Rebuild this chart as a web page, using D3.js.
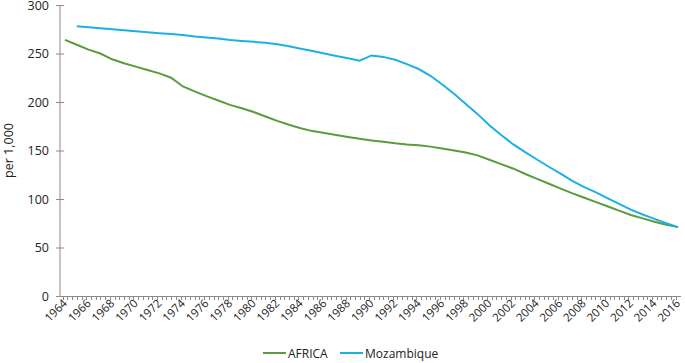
<!DOCTYPE html>
<html>
<head>
<meta charset="utf-8">
<script src="https://cdn.jsdelivr.net/npm/d3@7"></script>
<style>
  body { margin: 0; background: #fff; }
  svg text { font-family: "Open Sans", "Noto Sans", sans-serif; fill: #222; }
</style>
</head>
<body>
<svg id="chart" width="685" height="363"></svg>
<script>
// data
var africaYears = d3.range(1964, 2017);
var africa = [264, 259, 254, 250, 244, 240, 236.5, 233, 229.5, 225,
  216, 211, 206, 201.5, 197, 193.5, 189.7, 185, 180.5, 176.5,
  173, 170, 168, 166, 164, 162, 160.4, 159, 157.5, 156.3,
  155.5, 154, 152, 150, 148, 145, 140.5, 136, 131.5, 126,
  121, 116, 111, 106, 101.5, 97, 92.5, 88, 83.5, 80,
  76.5, 73.5, 71];
var mozYears = d3.range(1965, 2017);
var mozambique = [278, 277, 276, 275, 274, 273, 272, 271, 270, 269,
  267.5, 266.5, 265.5, 264, 263, 262, 261, 259.5, 257.5, 255,
  252.5, 250, 247.5, 245, 242.5, 248, 246.5, 243.5, 239, 234,
  227, 218, 208.5, 198, 187.5, 176, 166, 156.5, 148.5, 141,
  133.5, 126.5, 119, 112.5, 107, 101, 95, 89, 84, 79.5,
  75, 71];
var yTicks = [0, 50, 100, 150, 200, 250, 300];
var xLabels = d3.range(1964, 2017, 2);
var seriesNames = ["AFRICA", "Mozambique"];
var colors = ["#5b9b3d", "#1cb0e6"];

var svg = d3.select("#chart");
var axisColor = "#8a8a8a";

var x = d3.scaleLinear().domain([1964, 2016]).range([65, 678]);
var y = d3.scaleLinear().domain([0, 300]).range([296, 5]);

// y axis
svg.append("line")
  .attr("x1", 60).attr("x2", 60)
  .attr("y1", y(300)).attr("y2", y(0))
  .attr("stroke", axisColor);
svg.selectAll(".ytick").data(yTicks).enter().append("line")
  .attr("x1", 56).attr("x2", 64)
  .attr("y1", d => y(d) + 0.5).attr("y2", d => y(d) + 0.5)
  .attr("stroke", axisColor);
svg.selectAll(".ylab").data(yTicks).enter().append("text")
  .attr("x", 49).attr("y", d => y(d) + 4.5)
  .attr("text-anchor", "end")
  .style("font-size", "12.5px")
  .text(d => d);

svg.append("text")
  .attr("transform", "translate(13," + y(150) + ")rotate(-90)")
  .attr("text-anchor", "middle")
  .style("font-size", "12.5px")
  .text("per 1,000");

// x axis
svg.append("line")
  .attr("x1", 60).attr("x2", 681)
  .attr("y1", y(0) + 0.5).attr("y2", y(0) + 0.5)
  .attr("stroke", axisColor);
var minorTicks = d3.range(0, 131).map(i => 1963.8 + i * 0.4);
svg.selectAll(".xtick").data(minorTicks).enter().append("line")
  .attr("x1", d => Math.round(x(d)) + 0.5).attr("x2", d => Math.round(x(d)) + 0.5)
  .attr("y1", y(0)).attr("y2", y(0) + 4)
  .attr("stroke", axisColor);
svg.selectAll(".xlab").data(xLabels).enter().append("text")
  .attr("transform", d => "translate(" + (x(d) + 3) + ",304)rotate(-45)")
  .attr("text-anchor", "end")
  .style("font-size", "11.5px")
  .text(d => d);

// lines
var line = d3.line()
  .x(d => x(d[0]))
  .y(d => y(d[1]));

svg.append("path")
  .datum(africaYears.map((yr, i) => [yr, africa[i]]))
  .attr("d", line)
  .attr("fill", "none")
  .attr("stroke", colors[0])
  .attr("stroke-width", 2);

svg.append("path")
  .datum(mozYears.map((yr, i) => [yr, mozambique[i]]))
  .attr("d", line)
  .attr("fill", "none")
  .attr("stroke", colors[1])
  .attr("stroke-width", 2);

// legend
var legendX = [263, 340];
var lg = svg.selectAll(".legend").data(seriesNames).enter().append("g")
  .attr("transform", (d, i) => "translate(" + legendX[i] + ",353)");
lg.append("line")
  .attr("x1", 0).attr("x2", 23)
  .attr("stroke", (d, i) => colors[i])
  .attr("stroke-width", 2);
lg.append("text")
  .attr("x", 25).attr("y", 4.5)
  .style("font-size", "12px")
  .text(d => d);
</script>
</body>
</html>
